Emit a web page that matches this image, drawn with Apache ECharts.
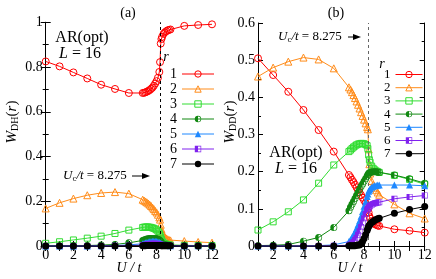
<!DOCTYPE html>
<html><head><meta charset="utf-8">
<script src="https://cdn.jsdelivr.net/npm/echarts@6/dist/echarts.min.js"></script>
<style>html,body{margin:0;padding:0;background:#fff}#c{width:436px;height:279px}</style>
</head><body><div id="c"></div>
<script>
// ---------- data ----------
const Uc = 8.275;
const rNames = ['1','2','3','4','5','6','7'];
// panel (a): W_DH(r)
const UA = [0,1,2,3,4,5,6, 7,7.1,7.2,7.3,7.4,7.5,7.6,7.7,7.8,7.9,8, 8.1,8.2,8.25,8.3,8.35,8.4, 8.5,8.6,8.7,8.8,8.9,9, 10,11,12];
const a1 = [0.825,0.803,0.776,0.749,0.721,0.702,0.684, 0.684,0.685,0.687,0.690,0.693,0.697,0.702,0.708,0.716,0.726,0.737, 0.752,0.778,0.822,0.905,0.925,0.935, 0.948,0.955,0.960,0.964,0.966,0.968, 0.984,0.988,0.991];
const a2 = [0.168,0.193,0.212,0.227,0.237,0.241,0.234, 0.207,0.203,0.199,0.195,0.190,0.185,0.179,0.172,0.165,0.157,0.150, 0.140,0.128,0.118,0.095,0.075,0.062, 0.048,0.040,0.034,0.030,0.027,0.025, 0.022,0.018,0.015];
const a3 = [0.012,0.019,0.027,0.035,0.044,0.056,0.071, 0.083,0.084,0.085,0.085,0.085,0.084,0.083,0.081,0.079,0.076,0.072, 0.066,0.058,0.050,0.040,0.030,0.022, 0.015,0.010,0.008,0.006,0.005,0.004, 0.003,0.002,0.002];
const a4 = [0.000,0.001,0.001,0.002,0.004,0.007,0.014, 0.025,0.027,0.029,0.031,0.032,0.033,0.034,0.034,0.034,0.033,0.032, 0.030,0.027,0.024,0.020,0.015,0.011, 0.008,0.006,0.004,0.003,0.003,0.002, 0.001,0.001,0.001];
const a5 = [0,0,0,0,0.001,0.002,0.005, 0.010,0.012,0.014,0.016,0.018,0.019,0.020,0.021,0.021,0.021,0.020, 0.019,0.017,0.015,0.012,0.009,0.007, 0.005,0.004,0.003,0.002,0.002,0.001, 0.001,0.001,0.000];
const a6 = [0,0,0,0,0,0.001,0.002, 0.004,0.005,0.006,0.007,0.008,0.009,0.010,0.010,0.010,0.010,0.010, 0.009,0.008,0.007,0.006,0.005,0.004, 0.003,0.002,0.002,0.001,0.001,0.001, 0,0,0];
const a7 = [0,0,0,0,0,0,0.001, 0.001,0.001,0.001,0.002,0.002,0.002,0.002,0.002,0.002,0.002,0.002, 0.002,0.002,0.002,0.002,0.001,0.001, 0.001,0.001,0.001,0.001,0.001,0.001, 0,0,0];
// panel (b): W_DD(r)
const UB = [1,2,3,4,5,6, 7,7.1,7.2,7.3,7.4,7.5,7.6,7.7,7.8,7.9,8, 8.1,8.2,8.25,8.3,8.35,8.4, 8.5,8.6,8.7,8.8,8.9,9, 10,11,12];
const b1 = [0.505,0.460,0.415,0.366,0.312,0.254, 0.191,0.185,0.178,0.172,0.165,0.158,0.151,0.144,0.137,0.130,0.123, 0.116,0.108,0.100,0.090,0.080,0.074, 0.067,0.062,0.059,0.057,0.055,0.054, 0.045,0.041,0.036];
const b2 = [0.456,0.480,0.496,0.507,0.502,0.478, 0.427,0.421,0.414,0.406,0.398,0.389,0.380,0.370,0.360,0.350,0.340, 0.330,0.320,0.314,0.260,0.220,0.195, 0.175,0.165,0.157,0.150,0.144,0.138, 0.112,0.088,0.074];
const b3 = [0.043,0.065,0.092,0.124,0.169,0.218, 0.254,0.258,0.262,0.266,0.269,0.272,0.274,0.275,0.276,0.276,0.275, 0.273,0.270,0.262,0.245,0.232,0.225, 0.215,0.209,0.205,0.202,0.200,0.198, 0.190,0.179,0.166];
const b4 = [0.001,0.002,0.004,0.013,0.023,0.050, 0.095,0.104,0.112,0.120,0.128,0.136,0.144,0.152,0.160,0.167,0.174, 0.181,0.188,0.192,0.195,0.197,0.198, 0.199,0.200,0.200,0.200,0.199,0.198, 0.191,0.181,0.169];
const b5 = [0,0,0,0,0.001,0.003, 0.012,0.017,0.023,0.030,0.038,0.047,0.057,0.068,0.080,0.093,0.107, 0.120,0.133,0.140,0.147,0.151,0.154, 0.158,0.161,0.162,0.163,0.164,0.164, 0.164,0.164,0.162];
const b6 = [0,0,0,0,0,0.001, 0.002,0.004,0.007,0.011,0.016,0.022,0.030,0.040,0.051,0.063,0.075, 0.086,0.096,0.100,0.103,0.106,0.108, 0.111,0.113,0.115,0.116,0.117,0.118, 0.127,0.132,0.136];
const b7 = [0,0,0,0,0,0, 0.001,0.001,0.001,0.001,0.001,0.002,0.003,0.003,0.006,0.012,0.020, 0.030,0.042,0.048,0.053,0.056,0.059, 0.063,0.066,0.069,0.071,0.073,0.075, 0.088,0.098,0.106];

// ---------- styles ----------
const FONT = 'Liberation Serif';
const colors = ['#ff0000','#ff8c1a','#33dd33','#118811','#1e88ff','#8022ee','#000000'];
const halfCircle = 'path://M5,0 A5,5 0 0 0 5,10 Z M5,0 A5,5 0 0 1 5,10 L5,9 A4,4 0 0 0 5,1 Z';
const halfRect = 'path://M0,0 L5,0 L5,10 L0,10 Z M5,0 L10,0 L10,10 L5,10 L5,9 L9,9 L9,1 L5,1 Z';
const symbols = ['circle','triangle','rect',halfCircle,'triangle',halfRect,'circle'];
const openSym = [true,true,true,false,false,false,false];
const symSize = [7,7,6,7,7,6,7];

function mk(name, xs, ys, idx, axisIdx){
  const c = colors[idx];
  return {
    name, type:'line', xAxisIndex:axisIdx, yAxisIndex:axisIdx,
    data: xs.map((x,i)=>[x, ys[i]]),
    symbol: symbols[idx], symbolSize: symSize[idx],
    lineStyle:{color:c, width:1},
    itemStyle: openSym[idx] ? {color:'rgba(255,255,255,0)', borderColor:c, borderWidth:1} : {color:c, borderWidth:0},
    emphasis:{disabled:true}, animation:false, z: 2+idx
  };
}
const seriesA = [a1,a2,a3,a4,a5,a6,a7].map((d,i)=>mk(rNames[i], UA, d, i, 0));
const seriesB = [b1,b2,b3,b4,b5,b6,b7].map((d,i)=>mk(rNames[i], UB, d, i, 2));
seriesA[0].markLine = {silent:true, symbol:['none','none'], label:{show:false}, lineStyle:{type:[3,3], color:'#000', width:1}, data:[{xAxis:Uc}], animation:false};
seriesB[0].markLine = {silent:true, symbol:['none','none'], label:{show:false}, lineStyle:{type:[3,3], color:'#666', width:1}, data:[{xAxis:Uc}], animation:false};

const axLine = {show:true, lineStyle:{color:'#000', width:1}};
const tick = {show:true, inside:true, length:5, lineStyle:{color:'#000'}};
const minor = {show:true, splitNumber:2, length:3, lineStyle:{color:'#000'}};
const lab = {color:'#000', fontFamily:FONT, fontSize:14};
function xAx(grid, min, pos, showLab){
  return {type:'value', gridIndex:grid, min, max:12, interval:1, position:pos,
    axisLine:axLine, axisTick:tick, splitLine:{show:false},
    axisLabel: showLab ? Object.assign({margin:2, formatter:v=> (v%2===0? String(v):'')}, lab) : {show:false}};
}
function yAx(grid, max, iv, pos, showLab){
  return {type:'value', gridIndex:grid, min:0, max, interval:iv, position:pos,
    axisLine:axLine, axisTick:tick, minorTick:minor, splitLine:{show:false},
    axisLabel: showLab ? Object.assign({margin:3}, lab) : {show:false}};
}

const legendCommon = {orient:'vertical', align:'right', selectedMode:false, data:rNames,
  lineStyle:{width:1}, itemStyle:{borderWidth:1}};

function txt(x,y,rich,text,extra){
  return Object.assign({type:'text', x, y, silent:true, style:{text, rich, fontFamily:FONT, fontSize:14, fill:'#000', align:'center', verticalAlign:'middle'}}, extra||{});
}
const rich = {
  i:{fontStyle:'italic', fontFamily:FONT, fontSize:14, lineHeight:16},
  n:{fontFamily:FONT, fontSize:14, lineHeight:16},
  yi:{fontStyle:'italic', fontFamily:FONT, fontSize:15, lineHeight:17},
  yn:{fontFamily:FONT, fontSize:15, lineHeight:17},
  ys:{fontFamily:FONT, fontSize:10, lineHeight:10, verticalAlign:'bottom'},
  big:{fontFamily:FONT, fontSize:16, lineHeight:18},
  bigi:{fontFamily:FONT, fontSize:16, lineHeight:18, fontStyle:'italic'},
  m:{fontFamily:FONT, fontSize:13, lineHeight:15},
  mi:{fontFamily:FONT, fontSize:13, lineHeight:15, fontStyle:'italic'},
  ms:{fontFamily:FONT, fontSize:9, lineHeight:9, verticalAlign:'bottom'}
};
function arrow(x1,x2,y){
  return [
    {type:'line', silent:true, shape:{x1, y1:y, x2:x2-6, y2:y}, style:{stroke:'#000', lineWidth:1}},
    {type:'polygon', silent:true, shape:{points:[[x2,y],[x2-8,y-3],[x2-8,y+3]]}, style:{fill:'#000'}}
  ];
}
const ucText = '{mi|U}{ms|c}{mi|/t}{m| = 8.275}';

const option = {
  backgroundColor:'#fff', animation:false,
  grid:[
    {left:45.7, top:22.3, width:166.3, height:223.7},
    {left:258, top:23, width:166.7, height:223}
  ],
  xAxis:[xAx(0,0,'bottom',true), xAx(0,0,'top',false), xAx(1,1,'bottom',true), xAx(1,1,'top',false)],
  yAxis:[yAx(0,1,0.2,'left',true), yAx(0,1,0.2,'right',false), yAx(1,0.6,0.1,'left',true), yAx(1,0.6,0.1,'right',false)],
  legend:[
    Object.assign({}, legendCommon, {left:165, top:62, itemWidth:32, itemHeight:8, itemGap:1, textStyle:{color:'#000', fontFamily:FONT, fontSize:14, lineHeight:14}}),
    Object.assign({}, legendCommon, {left:379, top:63, itemWidth:27, itemHeight:8, itemGap:0.2, textStyle:{color:'#000', fontFamily:FONT, fontSize:13, lineHeight:12}})
  ],
  series: seriesA.concat(seriesB),
  graphic:[
    txt(128,13,rich,'(a)'),
    txt(336,13,rich,'(b)'),
    txt(82,38,rich,'{big|AR(opt)}'),
    txt(80,54,rich,'{bigi|L}{big| = 16}'),
    txt(296,153,rich,'{big|AR(opt)}'),
    txt(296,169,rich,'{bigi|L}{big| = 16}'),
    txt(166,57,rich,'{i|r}'),
    txt(382,64,rich,'{i|r}'),
    {type:'text', x:63, y:176, silent:true, style:{text:ucText, rich, fill:'#000', align:'left', verticalAlign:'middle'}},
    {type:'text', x:278, y:37, silent:true, style:{text:ucText, rich, fill:'#000', align:'left', verticalAlign:'middle'}},
    ...arrow(132,150,176),
    ...arrow(348,361,37),
    txt(129,268,rich,'{i|U / t}'),
    txt(350,268,rich,'{i|U / t}'),
    txt(12,122,rich,'{yi|W}{ys|DH}{yn|(}{yi|r}{yn|)}', {rotation:Math.PI/2}),
    txt(230,122,rich,'{yi|W}{ys|DD}{yn|(}{yi|r}{yn|)}', {rotation:Math.PI/2})
  ]
};
const chart = echarts.init(document.getElementById('c'), null, {renderer:'canvas'});
chart.setOption(option);
</script></body></html>
